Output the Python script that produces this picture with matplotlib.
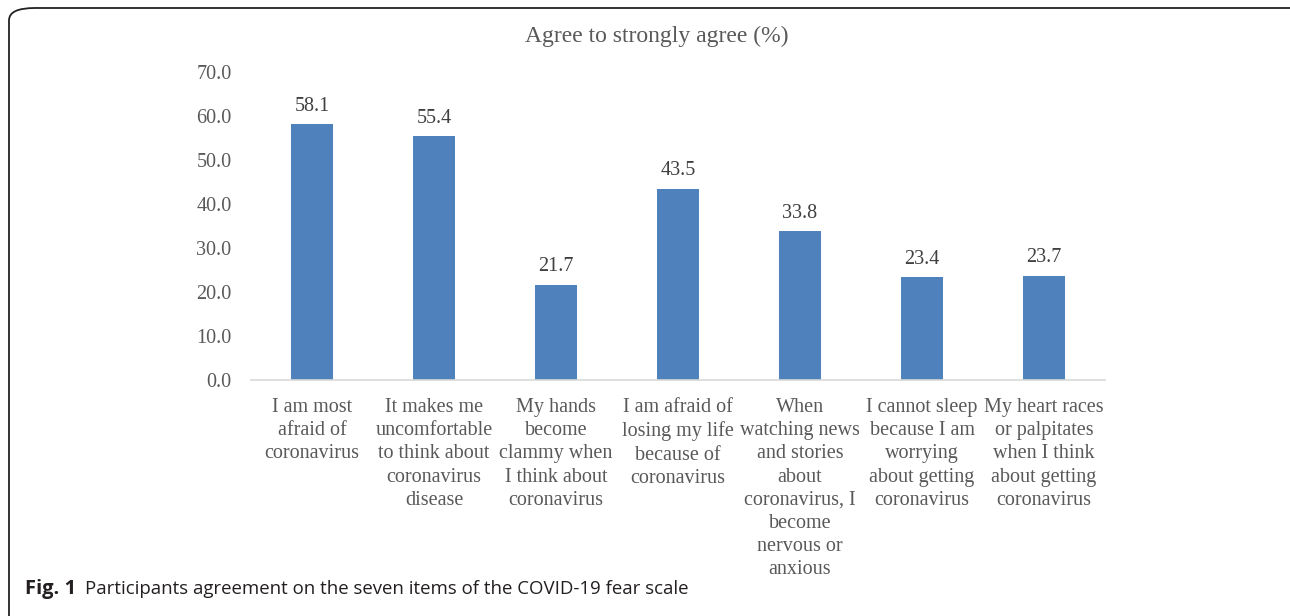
import matplotlib.pyplot as plt
from matplotlib.patches import FancyBboxPatch

# Dados do gráfico
itens = [
    "I am most\nafraid of\ncoronavirus",
    "It makes me\nuncomfortable\nto think about\ncoronavirus\ndisease",
    "My hands\nbecome\nclammy when\nI think about\ncoronavirus",
    "I am afraid of\nlosing my life\nbecause of\ncoronavirus",
    "When\nwatching news\nand stories\nabout\ncoronavirus, I\nbecome\nnervous or\nanxious",
    "I cannot sleep\nbecause I am\nworrying\nabout getting\ncoronavirus",
    "My heart races\nor palpitates\nwhen I think\nabout getting\ncoronavirus",
]
concordam = [58.1, 55.4, 21.7, 43.5, 33.8, 23.4, 23.7]
yticks = [0, 10, 20, 30, 40, 50, 60, 70]

serif = "Liberation Serif"
cinza = "#595959"
tam = 14.5

fig = plt.figure(figsize=(12.9, 6.16), dpi=100)
ax = fig.add_axes([251 / 1290, 236 / 616, 854 / 1290, 308 / 616])

x = range(len(itens))
barras = ax.bar(x, concordam, width=0.345, color="#4f81bd")
for b, v in zip(barras, concordam):
    ax.annotate(f"{v:.1f}", (b.get_x() + b.get_width() / 2, v), xytext=(0, 6),
                textcoords="offset points", ha="center", va="bottom",
                family=serif, fontsize=tam, color="#404040")

ax.set_xlim(-0.5, len(itens) - 0.5)
ax.set_ylim(0, 70)
ax.set_yticks(yticks)
ax.set_yticklabels([f"{t:.1f}" for t in yticks], family=serif, fontsize=tam, color=cinza)
ax.set_xticks(list(x))
ax.set_xticklabels(itens, family=serif, fontsize=tam, color=cinza, va="top", linespacing=1.3)
ax.tick_params(axis="both", length=0)
ax.tick_params(axis="y", pad=14)
ax.tick_params(axis="x", pad=13)
for s in ["top", "right", "left"]:
    ax.spines[s].set_visible(False)
ax.spines["bottom"].set_color("#d9d9d9")
ax.spines["bottom"].set_linewidth(1.2)

fig.text(657 / 1290, 1 - 36 / 616, "Agree to strongly agree (%)", ha="center", va="center",
         family=serif, fontsize=17, color=cinza)

# Moldura arredondada
moldura = FancyBboxPatch((9 / 1290, -0.05), 1.05, 1 - 8 / 616 + 0.05,
                         boxstyle="round,pad=0,rounding_size=0.02",
                         transform=fig.transFigure, fill=False, edgecolor="#222222",
                         linewidth=1.3, clip_on=False)
fig.patches.append(moldura)

# Legenda da figura
fig.text(25 / 1290, 1 - 589 / 616, "Fig. 1", ha="left", va="center",
         family="Open Sans", fontweight="bold", fontsize=14.5, color="#231f20")
fig.text(85 / 1290, 1 - 589 / 616, "Participants agreement on the seven items of the COVID-19 fear scale",
         ha="left", va="center", family="Open Sans", fontsize=13.4, color="#231f20")

fig.savefig("out.png", dpi=100)
